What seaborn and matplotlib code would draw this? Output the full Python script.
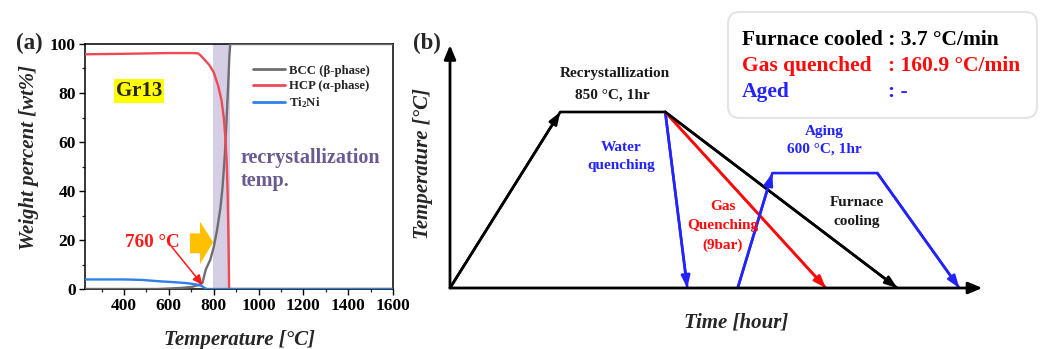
import matplotlib
matplotlib.use("Agg")
import numpy as np
import pandas as pd
import matplotlib.pyplot as plt
import seaborn as sns
from matplotlib.patches import Polygon, FancyBboxPatch
from matplotlib.transforms import IdentityTransform

# ---------------- data: panel (a) ----------------
temp_bcc = [226, 550, 600, 650, 700, 730, 750, 758, 765, 785, 800, 815, 830, 840, 850, 858, 864, 870, 874, 1600]
wt_bcc = [0, 0, 0.2, 0.4, 0.8, 1.5, 2.5, 5.5, 8, 12, 17, 24, 33, 42, 55, 70, 82, 95, 100, 100]

temp_hcp = [226, 400, 600, 700, 730, 740, 750, 760, 780, 800, 820, 835, 845, 852, 858, 862, 866, 869, 875, 1600]
wt_hcp = [95.8, 96.0, 96.3, 96.3, 96.2, 95.5, 94.5, 93.5, 91.5, 88.5, 83, 77, 70, 62, 52, 40, 20, 0, 0, 0]

temp_ti2ni = [226, 400, 480, 550, 620, 680, 720, 745, 760, 770, 1600]
wt_ti2ni = [3.9, 3.9, 3.7, 3.2, 2.8, 2.4, 1.9, 1.3, 0.4, 0, 0]

phase_labels = ["BCC (β-phase)", "HCP (α-phase)", "Ti$_2$Ni"]
phase_colors = ["#6e6e70", "#ee4a55", "#2f80e8"]
recryst_band = (795, 875)
x_ticks_a = [400, 600, 800, 1000, 1200, 1400, 1600]
y_ticks_a = [0, 20, 40, 60, 80, 100]

# ---------------- data: panel (b) (schematic, hours / °C) ----------------
t_recryst = [0.0, 1.05, 2.05]
T_recryst = [0, 850, 850]
t_water = [2.05, 2.26]
T_water = [850, 0]
t_gas = [2.05, 3.58]
T_gas = [850, 0]
t_furnace = [2.05, 4.26]
T_furnace = [850, 0]
t_aging = [2.74, 3.07, 4.07, 4.85]
T_aging = [0, 555, 555, 0]
t_axis_end = 5.07
T_axis_end = 1173

# ---------------- style ----------------
sns.set_style("ticks")
SERIF = ["Liberation Serif", "DejaVu Serif"]
plt.rcParams["font.family"] = SERIF
plt.rcParams["font.weight"] = "bold"
plt.rcParams["mathtext.fontset"] = "custom"
plt.rcParams["mathtext.rm"] = "Liberation Serif:bold"
plt.rcParams["mathtext.bf"] = "Liberation Serif:bold"
plt.rcParams["mathtext.it"] = "Liberation Serif:bold:italic"
plt.rcParams["mathtext.default"] = "rm"

W, H = 1040, 349
fig = plt.figure(figsize=(W / 100, H / 100), dpi=100)
fig.patch.set_facecolor("white")


def ftext(px, py, s, **kw):
    kw.setdefault("ha", "center")
    kw.setdefault("va", "center")
    kw.setdefault("fontweight", "bold")
    return fig.text(px / W, 1 - py / H, s, **kw)


# ================= panel (a) =================
ax1 = fig.add_axes([85 / W, 1 - 289 / H, 308 / W, 245 / H])
frames = []
for lab, tt, ww in zip(phase_labels, [temp_bcc, temp_hcp, temp_ti2ni], [wt_bcc, wt_hcp, wt_ti2ni]):
    frames.append(pd.DataFrame({"Temperature": tt, "Weight": ww, "Phase": lab}))
df_a = pd.concat(frames, ignore_index=True)

ax1.axvspan(*recryst_band, color="#d6cee4", zorder=0, lw=0)
sns.lineplot(data=df_a, x="Temperature", y="Weight", hue="Phase",
             hue_order=phase_labels, palette=phase_colors, linewidth=1.7,
             estimator=None, ax=ax1, zorder=3)
ax1.set_xlim(226, 1600)
ax1.set_ylim(0, 100)
ax1.set_xticks(x_ticks_a)
ax1.set_xticks(np.arange(300, 1600, 200), minor=True)
ax1.set_yticks(y_ticks_a)
ax1.set_yticks(np.arange(10, 100, 20), minor=True)
ax1.tick_params(axis="both", which="major", direction="out", length=4, width=1.0,
                labelsize=12.5, pad=2.5, colors="black")
ax1.tick_params(axis="both", which="minor", direction="out", length=2.5, width=0.9)
for lbl in ax1.get_xticklabels() + ax1.get_yticklabels():
    lbl.set_fontweight("bold")
for sp in ax1.spines.values():
    sp.set_visible(True)
    sp.set_color("black")
    sp.set_linewidth(1.1)
ax1.set_xlabel("")
ax1.set_ylabel("")

handles, labels = ax1.get_legend_handles_labels()
leg = ax1.legend(handles, labels, loc="upper left", bbox_to_anchor=(0.545, 0.915),
                 frameon=False, handlelength=2.5, handletextpad=0.3,
                 labelspacing=0.25, borderpad=0, borderaxespad=0,
                 prop={"family": SERIF, "weight": "bold", "size": 9.2})
for ln in leg.get_lines():
    ln.set_linewidth(2.0)

# orange block arrow (annotation)
orange_arrow = [(694, 14.6), (739, 14.6), (739, 10.2), (798, 19.1),
                (739, 27.5), (739, 22.7), (694, 22.7)]
ax1.add_patch(Polygon(orange_arrow, closed=True, color="#ffc000", lw=0, zorder=2))

ax1.text(467, 80.8, "Gr13", ha="center", va="center", fontsize=15, fontweight="bold",
         bbox=dict(boxstyle="square,pad=0.1", fc="#ffff00", ec="none"))
ax1.text(404, 18.8, "760 °C", ha="left", va="center", fontsize=13.8,
         fontweight="bold", color="#ff1a1a")
ax1.annotate("", xy=(751, 1.6), xytext=(613, 17.2),
             arrowprops=dict(arrowstyle="-|>,head_length=0.5,head_width=0.22",
                             color="#ff1a1a", lw=1.1, shrinkA=0, shrinkB=0,
                             mutation_scale=12), zorder=5)
ax1.text(920, 48.8, "recrystallization\ntemp.", ha="left", va="center",
         fontsize=14.5, fontweight="bold", color="#6a5a92", linespacing=1.15)

ftext(29, 43, "(a)", fontsize=16.5)
ftext(29, 157, "Weight percent [wt%]", rotation=90, fontsize=15, fontstyle="italic")
ftext(239, 340, "Temperature [°C]", fontsize=15, fontstyle="italic")

# ================= panel (b) =================
ax2 = fig.add_axes([450 / W, 1 - 288 / H, 540 / W, 248 / H])
ax2.set_xlim(0, 540 / 105)
ax2.set_ylim(0, 248 * 850 / 176)
ax2.axis("off")

BLUE = "#2323ff"
RED = "#ff0a0a"
LW = 1.9
paths = [
    (t_recryst, T_recryst, "black"),
    (t_water, T_water, BLUE),
    (t_gas, T_gas, RED),
    (t_furnace, T_furnace, "black"),
    (t_aging, T_aging, BLUE),
]
for tt, TT, col in paths:
    sns.lineplot(x=tt, y=TT, sort=False, estimator=None, color=col,
                 linewidth=LW, ax=ax2, zorder=3)

head = dict(arrowstyle="-|>,head_length=0.55,head_width=0.2", lw=LW,
            shrinkA=0, shrinkB=0, mutation_scale=13)
arrow_segments = [
    (t_recryst[0], T_recryst[0], t_recryst[1], T_recryst[1], "black"),
    (t_water[0], T_water[0], t_water[1], T_water[1], BLUE),
    (t_gas[0], T_gas[0], t_gas[1], T_gas[1], RED),
    (t_furnace[0], T_furnace[0], t_furnace[1], T_furnace[1], "black"),
    (t_aging[0], T_aging[0], t_aging[1], T_aging[1], BLUE),
    (t_aging[2], T_aging[2], t_aging[3], T_aging[3], BLUE),
]
for x0, y0, x1, y1, col in arrow_segments:
    ax2.annotate("", xy=(x1, y1), xytext=(x0, y0),
                 arrowprops=dict(color=col, **head), zorder=4)
# axes arrows
for xy in [(t_axis_end, 0), (0, T_axis_end)]:
    ax2.annotate("", xy=xy, xytext=(0, 0), annotation_clip=False,
                 arrowprops=dict(arrowstyle="-|>,head_length=0.6,head_width=0.25",
                                 color="black", lw=2.0, shrinkA=0, shrinkB=0,
                                 mutation_scale=14), zorder=5)

ftext(427, 43, "(b)", fontsize=16.5)
ftext(423, 164, "Temperature [°C]", rotation=90, fontsize=15, fontstyle="italic")
ftext(736, 323, "Time [hour]", fontsize=15, fontstyle="italic")

ftext(615, 73, "Recrystallization", fontsize=11, color="#1a1a1a")
ftext(612, 95, "850 °C, 1hr", fontsize=11, color="#1a1a1a")
ftext(621, 147, "Water", fontsize=11, color=BLUE)
ftext(621, 166, "quenching", fontsize=11, color=BLUE)
ftext(723, 207, "Gas", fontsize=11, color=RED)
ftext(723, 226, "Quenching", fontsize=11, color=RED)
ftext(723, 245, "(9bar)", fontsize=11, color=RED)
ftext(824, 131, "Aging", fontsize=11, color=BLUE)
ftext(824, 149, "600 °C, 1hr", fontsize=11, color=BLUE)
ftext(857, 203, "Furnace", fontsize=11, color="#1a1a1a")
ftext(857, 222, "cooling", fontsize=11, color="#1a1a1a")

# legend box top right
box = FancyBboxPatch((728, H - 118), 309, 106, boxstyle="round,pad=0,rounding_size=12",
                     transform=IdentityTransform(), fc="white", ec="#e4e4e4", lw=1.5,
                     zorder=10)
fig.patches.append(box)
ftext(742, 40, "Furnace cooled : 3.7 °C/min", ha="left", fontsize=15.5,
      color="black", zorder=11)
rows = [("Gas quenched", ": 160.9 °C/min", RED, 66),
        ("Aged", ": -", BLUE, 92)]
for left, right, col, py in rows:
    ftext(742, py, left, ha="left", fontsize=15.5, color=col, zorder=11)
    ftext(888, py, right, ha="left", fontsize=15.5, color=col, zorder=11)

fig.savefig("out.png", dpi=100, facecolor="white")
